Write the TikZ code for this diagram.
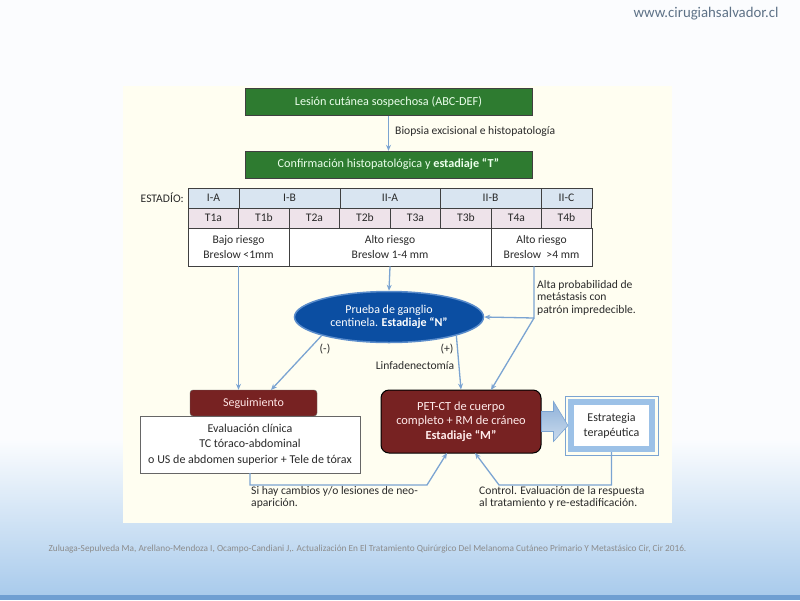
\documentclass[tikz,border=0pt]{standalone}
\usepackage{fontspec}
\setmainfont{Carlito}
\usetikzlibrary{shapes.geometric,arrows.meta,calc}
\definecolor{lineblue}{HTML}{7BA4D2}
\definecolor{boxgreen}{HTML}{2E7B30}
\definecolor{boxred}{HTML}{772222}
\definecolor{ovalblue}{HTML}{0B4EA2}
\definecolor{ovaledge}{HTML}{5A8CCB}
\definecolor{stagerow}{HTML}{D9E5F1}
\definecolor{trow}{HTML}{EEE3EA}
\definecolor{panel}{HTML}{FFFEF1}
\definecolor{bgblue}{HTML}{A9CBEC}
\definecolor{stripe}{HTML}{6F9FD2}
\definecolor{framblue}{HTML}{9CC1E7}
\definecolor{darktext}{HTML}{2A2A2A}
\definecolor{urlgray}{HTML}{5E7287}
\begin{document}
\begin{tikzpicture}[x=1pt,y=-1pt,
    conn/.style={draw=lineblue,line width=1.3pt,-{Stealth[length=6pt,width=5pt]}},
    greenbox/.style={draw=black!75,fill=boxgreen,text=white!92!green,minimum width=287pt,
      minimum height=27pt,inner sep=0pt,font=\fontsize{12.2}{14}\selectfont},
    cell/.style={draw=black!75,line width=0.9pt,inner sep=0pt,minimum height=20pt,
      text=darktext,font=\fontsize{11.6}{13}\selectfont},
    stagecell/.style={cell,fill=stagerow},
    tcell/.style={cell,fill=trow,minimum width=50.5pt},
    riskcell/.style={cell,fill=white,minimum height=38pt,align=center,
      font=\fontsize{11.6}{15}\selectfont},
    lbl/.style={text=darktext,font=\fontsize{11.6}{12.5}\selectfont,inner sep=0pt}]
\useasboundingbox (0,0) rectangle (800,600);
% background and panel
\fill[white!95!bgblue] (0,0) rectangle (800,600);
\shade[top color=white!95!bgblue,bottom color=bgblue] (0,440) rectangle (800,595);
\fill[stripe] (0,595) rectangle (800,600);
\fill[panel] (123,86) rectangle (672,523);
\node[anchor=east,text=urlgray,font=\fontsize{14.8}{16}\selectfont] (url) at (782,14) {www.cirugiahsalvador.cl};
\node[anchor=west,text=black!45,font=\fontsize{9.3}{11}\selectfont] (cita) at (45,549)
  {Zuluaga-Sepulveda Ma, Arellano-Mendoza I, Ocampo-Candiani J,. Actualización En El Tratamiento Quirúrgico Del Melanoma Cutáneo Primario Y Metastásico Cir, Cir 2016.};
% T staging
\node[greenbox] (lesion) at (388.5,102) {Lesión cutánea sospechosa (ABC-DEF)};
\node[greenbox] (confirm) at (388.5,164.5) {Confirmación histopatológica y \textbf{estadiaje “T”}};
\draw[conn] (lesion.south) -- (confirm.north);
\node[lbl,anchor=west] (biopsia) at (395,131) {Biopsia excisional e histopatología};
% table
\node[lbl,anchor=east] (estadio) at (184,198) {ESTADÍO:};
\node[stagecell,minimum width=51pt] (sIA) at (213.5,198) {I-A};
\node[stagecell,minimum width=101pt] (sIB) at (289.5,198) {I-B};
\node[stagecell,minimum width=100pt] (sIIA) at (390,198) {II-A};
\node[stagecell,minimum width=101pt] (sIIB) at (490.5,198) {II-B};
\node[stagecell,minimum width=51pt] (sIIC) at (566.5,198) {II-C};
\node[tcell] (tIa) at (213.5,218) {T1a};
\node[tcell] (tIb) at (264,218) {T1b};
\node[tcell] (tIIa) at (314.5,218) {T2a};
\node[tcell] (tIIb) at (365,218) {T2b};
\node[tcell] (tIIIa) at (415.5,218) {T3a};
\node[tcell] (tIIIb) at (466,218) {T3b};
\node[tcell] (tIVa) at (516.5,218) {T4a};
\node[tcell] (tIVb) at (566.5,218) {T4b};
\node[riskcell,minimum width=101pt] (bajo) at (238.5,247) {Bajo riesgo\\Breslow <1mm};
\node[riskcell,minimum width=202pt] (alto) at (390,247) {Alto riesgo\\Breslow 1-4 mm};
\node[riskcell,minimum width=101pt] (alto2) at (541.5,247) {Alto riesgo\\Breslow\ \ >4 mm};
% N staging
\node[ellipse,draw=ovaledge,line width=1.5pt,fill=ovalblue,text=white,align=center,
  minimum width=189pt,minimum height=51pt,inner sep=0pt,font=\fontsize{12}{13}\selectfont]
  (ganglio) at (389,317) {Prueba de ganglio\\centinela. \textbf{Estadiaje “N”}};
\node[lbl,anchor=north west,align=left] (alta) at (537,280) {Alta probabilidad de\\metástasis con\\patrón impredecible.};
\node[lbl] (menos) at (325,349) {(-)};
\node[lbl] (mas) at (447,349) {(+)};
\node[lbl] (linf) at (415,366) {Linfadenectomía};
% lower boxes
\node[draw=black!60,fill=boxred,rounded corners=3pt,minimum width=127pt,minimum height=26pt,
  inner sep=0pt,text=white!90!red,font=\fontsize{12}{14}\selectfont] (seg) at (253.5,403) {Seguimiento};
\node[draw=black!60,fill=white,minimum width=220pt,minimum height=57pt,inner sep=0pt,align=center,
  text=darktext,font=\fontsize{12}{15.5}\selectfont] (evalua) at (250,444.5)
  {Evaluación clínica\\TC tóraco-abdominal\\o US de abdomen superior + Tele de tórax};
\node[draw=black,line width=1pt,fill=boxred,rounded corners=8pt,minimum width=160pt,minimum height=63pt,
  inner sep=0pt,align=center,text=white!92!red,font=\fontsize{12.4}{14.5}\selectfont] (pet) at (461,421.5)
  {PET-CT de cuerpo\\completo + RM de cráneo\\\textbf{Estadiaje “M”}};
\node[draw=framblue,line width=6pt,fill=white,minimum width=81pt,minimum height=47pt,inner sep=0pt,
  align=center,text=darktext,font=\fontsize{12}{15}\selectfont] (strat) at (611.5,425.5)
  {Estrategia\\terapéutica};
\draw[lineblue,line width=0.6pt] (565,396) rectangle (658,455);
\shade[top color=lineblue!85,bottom color=lineblue!40,draw=lineblue,line width=0.6pt]
  ($(pet.east)+(0,-10)$) -- ($(pet.east)+(12,-10)$) -- ($(pet.east)+(12,-20)$) --
  (strat.west) -- ($(pet.east)+(12,20)$) -- ($(pet.east)+(12,10)$) -- ($(pet.east)+(0,10)$) -- cycle;
% connectors
\coordinate (split) at (534,318);
\coordinate (segin) at (271,390);
\coordinate (petin) at (491,390);
\coordinate (lbend) at (427,485);
\coordinate (rbend) at (499,485);
\coordinate (petinl) at (447,453);
\coordinate (petinr) at (475,453);
\draw[conn] (bajo.south) -- (bajo.south |- seg.north);
\draw[conn] (alto.south) -- (ganglio.north);
\draw[conn] (alto2.south -| split) -- (split) -- (ganglio.east);
\draw[conn] (split) -- (petin);
\draw[conn] (ganglio.south west) -- (segin);
\draw[conn] (ganglio.south east) -- (pet.north);
\draw[conn] (evalua.south) |- (lbend) -- (petinl);
\draw[conn] (strat.south) |- (rbend) -- (petinr);
\node[lbl,anchor=north west,align=left] (cambios) at (251,486) {Si hay cambios y/o lesiones de neo-\\aparición.};
\node[lbl,anchor=north west,align=left] (control) at (479,486) {Control. Evaluación de la respuesta\\al tratamiento y re-estadificación.};
\end{tikzpicture}
\end{document}
